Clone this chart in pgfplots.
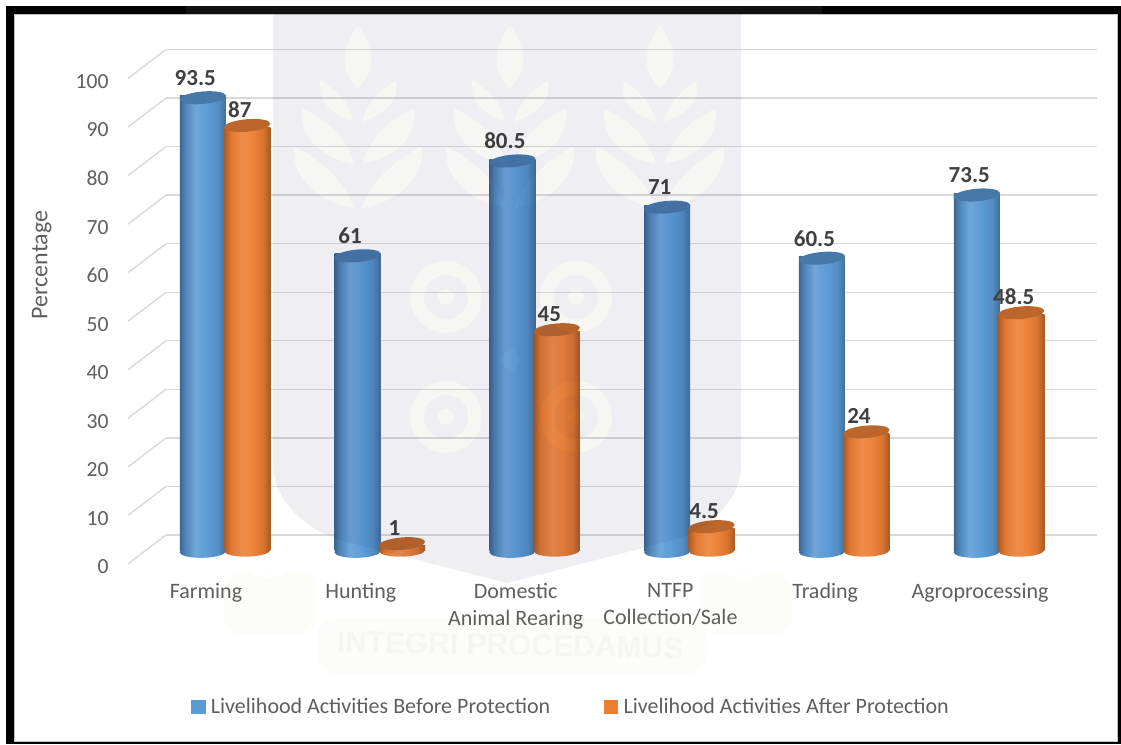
\documentclass[border=0pt]{standalone}
\usepackage{fontspec}
\setmainfont{Carlito}
\newfontfamily\crestfont{Liberation Sans}
\usepackage{pgfplots}
\usepackage{pgfplotstable}
\pgfplotsset{compat=1.18}
\usetikzlibrary{shapes.geometric}

\definecolor{txt}{HTML}{5F5F5F}
\definecolor{lab}{HTML}{404040}
\definecolor{gridc}{HTML}{D9D9D9}
\definecolor{blueS}{HTML}{5B9BD5}
\definecolor{orangeS}{HTML}{ED7D31}
\definecolor{blueTop}{HTML}{4678A8}
\definecolor{orangeTop}{HTML}{BC662B}
\definecolor{cream}{HTML}{FFFFF8}
\definecolor{creamB}{HTML}{FCFCF9}
\definecolor{shieldtint}{rgb}{0.08,0.08,0.35}

% cylinder body shadings: the path's width spans 25bp to 75bp
\pgfdeclarehorizontalshading{cylblue}{100bp}{
  color(0bp)=(blueTop!85!black);
  color(25bp)=(blueTop!85!black);
  color(31bp)=(blueTop!60!blueS);
  color(42bp)=(blueS!88!white);
  color(56bp)=(blueS);
  color(67bp)=(blueS!60!blueTop);
  color(75bp)=(blueTop!92!black);
  color(100bp)=(blueTop!92!black)}
\pgfdeclarehorizontalshading{cylorange}{100bp}{
  color(0bp)=(orangeTop!90!black);
  color(25bp)=(orangeTop!90!black);
  color(32bp)=(orangeS!75!orangeTop);
  color(45bp)=(orangeS!88!white);
  color(56bp)=(orangeS!95!white);
  color(67bp)=(orangeS!60!orangeTop);
  color(75bp)=(orangeTop!88!black);
  color(100bp)=(orangeTop!88!black)}

\pgfplotstableread{
c before after
0 93.5 87
1 61 1
2 80.5 45
3 71 4.5
4 60.5 24
5 73.5 48.5
}\levels

% one cylinder: base ellipse, shaded body, lid; rows #5 up to #6 of column #1
\newcommand{\cylinder}[6]{%
  \addplot[draw=none, mark=none, forget plot,
    skip coords between index={0}{#5}, skip coords between index={#6}{6},
    nodes near coords={},
    every node near coord/.style={shape=ellipse, inner sep=0pt, anchor=center,
      minimum width=46.2pt, minimum height=12.5pt, rotate=1.5, xshift=#2, yshift=-0.5pt,
      shade, shading=#3}]
    table[x=c, y expr=0] {\levels};
  \addplot[ybar, bar width=46pt, bar shift=#2, draw=none, forget plot, shade, shading=#3,
    skip coords between index={0}{#5}, skip coords between index={#6}{6}]
    table[x=c, y=#1] {\levels};
  \addplot[draw=none, mark=none, forget plot,
    skip coords between index={0}{#5}, skip coords between index={#6}{6},
    nodes near coords={},
    every node near coord/.style={shape=ellipse, inner sep=0pt, anchor=center,
      minimum width=46.5pt, minimum height=12.5pt, rotate=5, xshift=#2, fill=#4}]
    table[x=c, y=#1] {\levels};
}
\newcommand{\cylinderseries}[4]{%
  \cylinder{#1}{#2}{#3}{#4}{0}{1}
  \cylinder{#1}{#2}{#3}{#4}{1}{2}
  \cylinder{#1}{#2}{#3}{#4}{2}{3}
  \cylinder{#1}{#2}{#3}{#4}{3}{4}
  \cylinder{#1}{#2}{#3}{#4}{4}{5}
  \cylinder{#1}{#2}{#3}{#4}{5}{6}
}

% sheaf, swirl and ring shapes of the crest
\newcommand{\crestshapes}{%
  \foreach \cx in {358,510,660}{
    ({\cx},25) .. controls ({\cx-18},50) and ({\cx-18},72) .. ({\cx},88)
      .. controls ({\cx+18},72) and ({\cx+18},50) .. ({\cx},25)
    ({\cx-38},80) .. controls ({\cx-42},104) and ({\cx-22},116) .. ({\cx-4},122)
      .. controls ({\cx-10},100) and ({\cx-22},90) .. ({\cx-38},80)
    ({\cx+38},80) .. controls ({\cx+42},104) and ({\cx+22},116) .. ({\cx+4},122)
      .. controls ({\cx+10},100) and ({\cx+22},90) .. ({\cx+38},80)
    ({\cx-56},108) .. controls ({\cx-60},142) and ({\cx-30},160) .. ({\cx-4},164)
      .. controls ({\cx-12},135) and ({\cx-32},120) .. ({\cx-56},108)
    ({\cx+56},108) .. controls ({\cx+60},142) and ({\cx+30},160) .. ({\cx+4},164)
      .. controls ({\cx+12},135) and ({\cx+32},120) .. ({\cx+56},108)
    ({\cx-64},146) .. controls ({\cx-68},180) and ({\cx-35},204) .. ({\cx-4},208)
      .. controls ({\cx-14},178) and ({\cx-38},160) .. ({\cx-64},146)
    ({\cx+64},146) .. controls ({\cx+68},180) and ({\cx+35},204) .. ({\cx+4},208)
      .. controls ({\cx+14},178) and ({\cx+38},160) .. ({\cx+64},146)
  }
  \foreach \sx/\sy in {446/297,576/297,446/417,576/417}{
    (\sx,\sy) circle[radius=36] (\sx,\sy) circle[radius=22]
    (\sx,\sy) circle[radius=8]
  }
  (511,345) -- (522,360) -- (511,375) -- (500,360) -- cycle
}
\newcommand{\shieldoutline}{%
  (273,14.5) -- (741,14.5) -- (741,470)
  .. controls (738,500) and (710,530) .. (670,541)
  -- (507,583) -- (344,541)
  .. controls (304,530) and (276,500) .. (273,470) -- cycle
}

\begin{document}
\begin{tikzpicture}
\path[use as bounding box] (0,0) rectangle (1121pt,744pt);

\begin{scope}[x=1pt,y=-1pt,shift={(0pt,744pt)}]
  % sheet and frame
  \fill[white] (0,0) rectangle (1121,744);
  \fill[black] (6,6) rectangle (1121,744);
  \fill[black!93] (186,6) rectangle (822,14.5);
  \fill[white, draw=black!25, line width=1pt] (14.5,14.5) rectangle (1117.5,741.5);
  % scroll and motto of the crest, faint on the sheet
  \fill[creamB, rounded corners=18pt] (224,572) rectangle (316,634);
  \fill[creamB, rounded corners=18pt] (700,572) rectangle (792,634);
  \draw[white, line width=5pt] (268,566) ellipse[x radius=20, y radius=9];
  \draw[white, line width=5pt] (744,566) ellipse[x radius=20, y radius=9];
  \fill[creamB, rounded corners=20pt] (317,618) rectangle (707,674);
  \node[text=black!4, font=\crestfont\bfseries\fontsize{30}{34}\selectfont, rotate=-1]
    at (510,645) {INTEGRI PROCEDAMUS};
  \fill[cream, even odd rule] \crestshapes;
\end{scope}

% rear wall lines and side wall lines
\begin{axis}[
  at={(166pt,209pt)}, anchor=south west, scale only axis,
  width=931pt, height=485.5pt,
  xmin=166, xmax=1097, ymin=0, ymax=100,
  clip=false, unbounded coords=jump,
  axis line style={draw=none}, tick style={draw=none},
  xtick=\empty, ytick={0,10,...,100}, ymajorgrids,
  grid style={gridc, line width=1.4pt},
  /pgf/number format/assume math mode=true,
  yticklabel style={font=\fontsize{21.6}{26}\selectfont, text=txt, anchor=east,
    xshift=-54pt, yshift=-32pt},
  ylabel={Percentage},
  every axis y label/.style={at={(axis description cs:-0.1335,0.556)}, rotate=90,
    anchor=center, font=\fontsize{24}{28}\selectfont, text=txt},
]
\addplot[gridc, line width=1.4pt, mark=none] table[row sep=crcr] {
x y\\
128 -5.97\\ 166 0\\ 128 nan\\
128 4.03\\ 166 10\\ 128 nan\\
128 14.03\\ 166 20\\ 128 nan\\
128 24.03\\ 166 30\\ 128 nan\\
128 34.03\\ 166 40\\ 128 nan\\
128 44.03\\ 166 50\\ 128 nan\\
128 54.03\\ 166 60\\ 128 nan\\
128 64.03\\ 166 70\\ 128 nan\\
128 74.03\\ 166 80\\ 128 nan\\
128 84.03\\ 166 90\\ 128 nan\\
128 94.03\\ 166 100\\
};
\end{axis}

% cylinders, category names, value labels and legend
\begin{axis}[
  at={(128pt,193.5pt)}, anchor=south west, scale only axis,
  width=969pt, height=486.3pt,
  xmin=-0.6266, xmax=5.6331, ymin=0, ymax=100,
  clip=false,
  axis lines=none,
  /pgf/number format/assume math mode=true,
  legend columns=2,
  legend cell align=left,
  legend style={at={(63pt,-156.5pt)}, anchor=west, draw=none, fill=none,
    font=\fontsize{22}{26}\selectfont, text=txt, inner sep=0pt, outer sep=0pt,
    /tikz/every odd column/.append style={column sep=4pt},
    /tikz/every even column/.append style={column sep=51.5pt}},
  legend image code/.code={\fill[#1] (0pt,-6.5pt) rectangle (13.5pt,6.5pt);},
]
\cylinderseries{before}{-22.25pt}{cylblue}{blueTop}
\cylinderseries{after}{22.25pt}{cylorange}{orangeTop}

\addlegendimage{blueS}
\addlegendentry{Livelihood Activities Before Protection}
\addlegendimage{orangeS}
\addlegendentry{Livelihood Activities After Protection}

% value labels
\addplot[draw=none, mark=none, forget plot, nodes near coords,
  every node near coord/.style={anchor=center, text=lab, xshift=-29.75pt, yshift=18pt,
    font=\fontsize{23}{27}\selectfont\bfseries}]
  table[x=c, y=before] {\levels};
\addplot[draw=none, mark=none, forget plot, nodes near coords,
  every node near coord/.style={anchor=center, text=lab, xshift=14.75pt, yshift=18pt,
    font=\fontsize{23}{27}\selectfont\bfseries}]
  table[x=c, y=after] {\levels};

% category names, written at the foot of the chart
\addplot[draw=none, mark=none, forget plot, only marks,
  nodes near coords={\ifcase\coordindex Farming\or Hunting\or Domestic\\Animal Rearing\or NTFP\\Collection/Sale\or Trading\or Agroprocessing\fi},
  every node near coord/.style={anchor=north, align=center, text=txt, xshift=-19pt, yshift=-29pt,
    font=\fontsize{22}{27}\selectfont}]
  table[x=c, y expr=0] {\levels};
\end{axis}

% tint of the crest's shield over the chart, lighter across the crest's shapes
\begin{scope}[x=1pt,y=-1pt,shift={(0pt,744pt)}]
  \fill[shieldtint, fill opacity=0.035] \shieldoutline;
  \fill[even odd rule, shieldtint, fill opacity=0.031] \shieldoutline \crestshapes;
\end{scope}
\end{tikzpicture}
\end{document}
